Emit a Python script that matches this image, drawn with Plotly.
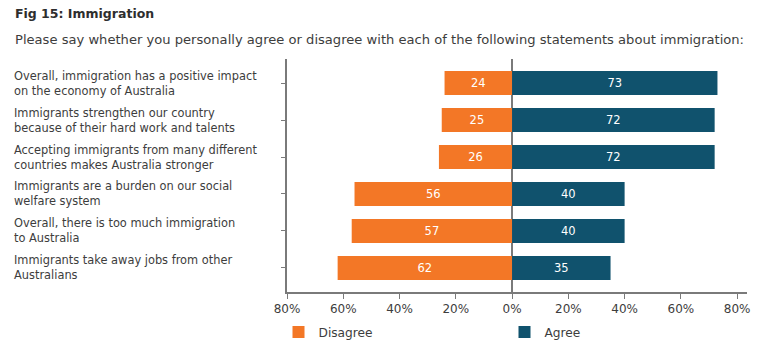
import plotly.graph_objects as go

categories = [
    "Overall, immigration has a positive impact<br>on the economy of Australia",
    "Immigrants strengthen our country<br>because of their hard work and talents",
    "Accepting immigrants from many different<br>countries makes Australia stronger",
    "Immigrants are a burden on our social<br>welfare system",
    "Overall, there is too much immigration<br>to Australia",
    "Immigrants take away jobs from other<br>Australians",
]
disagree = [24, 25, 26, 56, 57, 62]
agree = [73, 72, 72, 40, 40, 35]
tick_vals = [-80, -60, -40, -20, 0, 20, 40, 60, 80]
tick_text = ["80%", "60%", "40%", "20%", "0%", "20%", "40%", "60%", "80%"]

ORANGE = "#F37726"
NAVY = "#10526D"
FONT = "DejaVu Sans"
TXT = "#3d3d3d"

ypos = list(range(len(categories)))

fig = go.Figure()
fig.add_trace(go.Bar(
    y=ypos, x=[-v for v in disagree], orientation="h", name="Disagree",
    marker=dict(color=ORANGE, line=dict(width=0)), width=0.65,
    text=[str(v) for v in disagree], textposition="inside", insidetextanchor="middle",
    textangle=0,
    textfont=dict(color="white", size=11.5, family=FONT), hoverinfo="skip",
))
fig.add_trace(go.Bar(
    y=ypos, x=agree, orientation="h", name="Agree",
    marker=dict(color=NAVY, line=dict(width=0)), width=0.65,
    text=[str(v) for v in agree], textposition="inside", insidetextanchor="middle",
    textangle=0,
    textfont=dict(color="white", size=11.5, family=FONT), hoverinfo="skip",
))

W, H = 762, 347
L, R, T, B = 287, 15, 59, 55
pw = W - L - R
ph = H - T - B

annotations = [
    dict(text="<b>Fig 15: Immigration</b>", xref="paper", yref="paper",
         x=-(L - 13) / pw, y=1 + (T - 13) / ph, xanchor="left", yanchor="middle",
         showarrow=False, font=dict(size=12.5, color="#2e2e2e", family=FONT)),
    dict(text="Please say whether you personally agree or disagree with each of the following statements about immigration:",
         xref="paper", yref="paper", x=-(L - 13) / pw, y=1 + (T - 40) / ph,
         xanchor="left", yanchor="middle", showarrow=False,
         font=dict(size=13.1, color=TXT, family=FONT)),
]
for i, c in enumerate(categories):
    annotations.append(dict(
        text=c, xref="paper", yref="y", x=-(L - 13) / pw, y=i,
        xanchor="left", yanchor="middle", align="left", showarrow=False,
        borderpad=0,
        font=dict(size=11.4, color=TXT, family=FONT),
    ))

fig.update_layout(
    width=W, height=H, margin=dict(l=L, r=R, t=T, b=B, autoexpand=False),
    paper_bgcolor="white", plot_bgcolor="white",
    barmode="relative", bargap=0.35,
    font=dict(family=FONT, color=TXT),
    xaxis=dict(range=[-80, 83.5], tickvals=tick_vals, ticktext=tick_text,
               showgrid=False, zeroline=True, zerolinecolor="#7a7a7a", zerolinewidth=1.5,
               showline=True, linecolor="#7a7a7a", linewidth=1.5,
               ticks="outside", ticklen=5, tickcolor="#7a7a7a",
               tickfont=dict(size=12, color=TXT, family=FONT), fixedrange=True),
    yaxis=dict(range=[5.65, -0.65], tickvals=ypos, showticklabels=False,
               showgrid=False, zeroline=False, showline=True, linecolor="#7a7a7a", linewidth=1.5,
               ticks="outside", ticklen=4, tickcolor="#7a7a7a", fixedrange=True),
    showlegend=True,
    legend=dict(orientation="h", x=278.5 / W, xanchor="left", xref="container",
                y=1 - 332 / H, yanchor="middle", yref="container",
                entrywidth=181, entrywidthmode="pixels",
                font=dict(size=12.2, color=TXT, family=FONT), traceorder="normal"),
    annotations=annotations,
    uniformtext=dict(minsize=10, mode="show"),
)

fig.write_html("out.html")
